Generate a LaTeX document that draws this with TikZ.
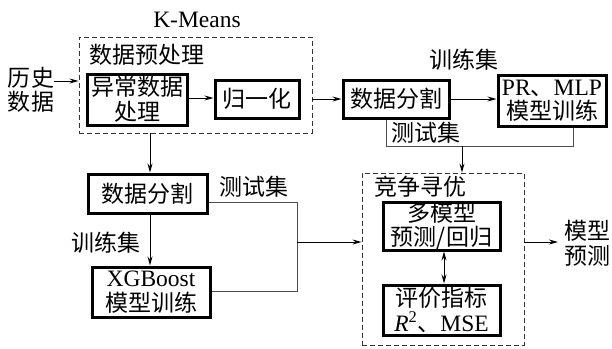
\documentclass[tikz,border=0pt]{standalone}
\usepackage{fontspec}
\setmainfont{Liberation Serif}
\newfontfamily\cjk{Noto Sans CJK SC}
\newcommand\mylat[1]{{\rmfamily\fontsize{23.5}{24}\selectfont #1}}
\usetikzlibrary{arrows.meta}
\begin{document}
\begin{tikzpicture}[x=1pt,y=-1pt,
  every node/.style={font=\cjk\fontsize{23}{24.5}\selectfont, align=center, inner sep=0pt},
  tbox/.style={draw, line width=3pt, minimum width=#1},
  dbox/.style={draw=black!80, dash pattern=on 5pt off 3pt, line width=0.9pt},
  arr/.style={-{Stealth[length=9pt,width=5pt]}, line width=1pt},
  thin/.style={line width=0.9pt, black!70}
]
\useasboundingbox (0,0) rectangle (612,348);
% top-left group
\node (km) at (197,20) {\mylat{K-Means}};
\node[dbox, minimum width=233pt, minimum height=96pt] (d1) at (195.5,85) {};
\node (pre) at (147,55) {数据预处理};
\node (hist) at (31,90) {历史\\数据};
\node[tbox=100pt, minimum height=51pt] (ab) at (137,99.5) {异常数据\\处理};
\node[tbox=84pt, minimum height=38pt] (norm) at (257,99) {归一化};
\node[tbox=106pt, minimum height=38pt] (s1) at (396,99) {数据分割};
\node[tbox=108pt, minimum height=51pt] (prm) at (552,100.5) {\mylat{PR}、\mylat{MLP}\\模型训练};
\node (tr1) at (464,60) {训练集};
\node (te1) at (426,133) {测试集};
% lower-left group
\node[tbox=119pt, minimum height=39pt] (s2) at (147.5,193.5) {数据分割};
\node (te2) at (254,187) {测试集};
\node (tr2) at (106,243) {训练集};
\node[tbox=118pt, minimum height=50pt] (xgb) at (151,292) {\mylat{XGBoost}\\模型训练};
% right group
\node[dbox, minimum width=162pt, minimum height=172pt] (d2) at (443,259) {};
\node (comp) at (420,187) {竞争寻优};
\node[tbox=117pt, minimum height=48pt] (multi) at (441.5,226) {多模型\\预测/回归};
\node[tbox=117pt, minimum height=50pt] (eval) at (441.5,310) {评价指标\\\mylat{\textit{R}\textsuperscript{2}}、\mylat{MSE}};
\node (out) at (587,243) {模型\\预测};
% coordinates
\coordinate (j1) at (386,146);
\coordinate (j2) at (573,146);
\coordinate (j3) at (462,146);
\coordinate (k1) at (297,202);
\coordinate (k2) at (297,291);
\coordinate (k3) at (297,242);
\coordinate (o1) at (558,242);
% connectors
\draw[arr] (hist.east |- 0,81) -- (d1.west |- 0,81);
\draw[arr] (ab.east |- 0,98) -- (norm.west |- 0,98);
\draw[arr] (d1.east |- 0,99) -- (s1.west |- 0,99);
\draw[arr] (s1.east |- 0,99) -- (prm.west |- 0,99);
\draw[thin] (s1.south -| j1) -- (j1) -- (j2) -- (prm.south -| j2);
\draw[arr] (j3) -- (d2.north -| j3);
\draw[arr] (d1.south -| 150,0) -- (s2.north -| 150,0);
\draw[arr] (s2.south -| 150,0) -- (xgb.north -| 150,0);
\draw[thin] (s2.east |- k1) -- (k1) -- (k2) -- (xgb.east |- k2);
\draw[arr] (k3) -- (d2.west |- k3);
\draw[{Stealth[length=9pt,width=5pt]}-{Stealth[length=9pt,width=5pt]}, line width=1pt] (multi.south -| 444,0) -- (eval.north -| 444,0);
\draw[arr] (d2.east |- o1) -- (o1);
\end{tikzpicture}
\end{document}
